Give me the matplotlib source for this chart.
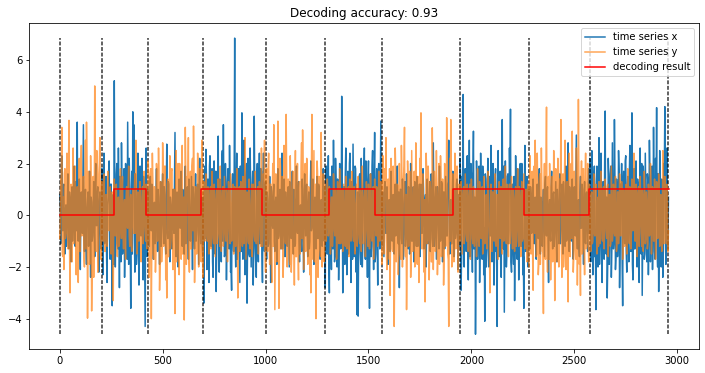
import numpy as np
import matplotlib
matplotlib.use("Agg")
import matplotlib.pyplot as plt

# sample spacing (x axis units between consecutive samples)
step = 2.5

# time series x (blue), samples 0, 2, 4, ... (read/)
series_x = [
    0.8, -1.1, 2.3, -0.6, 1.2, -1.5, 0.4, -0.9, 1.6, -1.3,
    0.7, -1.8, 1.1, -0.5, 1.9, -1.2, 0.3, 3.6, -1.0, 1.4,
    -2.1, 0.9, -0.7, 3.5, -1.4, 1.0, -1.9, 0.6, -1.2, 1.7,
    -2.4, 0.5, -0.8, 1.3, -1.6, 2.0, -0.4, 1.1, -2.2, 0.9,
    -1.3, 1.8, -2.3, 2.4, -0.9, 1.5, -2.6, 0.7, 2.1, -1.7,
    1.2, -3.5, 0.8, 5.2, -2.0, 1.6, -1.1, 2.6, -2.8, 0.9,
    2.8, -1.5, 1.3, -2.4, 2.0, -0.7, 3.6, -1.9, 1.1, -3.6,
    1.7, 4.0, 3.5, -2.2, 0.6, -1.4, 2.4, -2.7, 1.9, -0.8,
    2.2, -2.5, 1.0, -4.3, 2.6, -1.6, 0.9, -1.2, 1.5, -0.6,
    1.1, -1.7, 0.5, -1.0, 1.8, -1.4, 0.7, -1.9, 1.3, -0.4,
    1.6, -1.1, 0.8, -1.5, 2.75, -0.9, 1.2, -1.8, 0.4, -1.3,
    1.0, -0.7, 3.2, -1.6, 0.9, -2.0, 1.4, -0.5, 1.7, -1.2,
    0.6, -1.5, 1.9, -0.8, 1.1, -1.7, 0.5, -1.0, 1.5, -2.1,
    0.8, -1.3, 1.6, -0.6, 1.2, -1.9, 2.2, -1.1, 0.7, -1.6,
    -3.4, 1.9, 2.55, -2.1, 1.4, -2.6, 2.3, -1.2, 1.8, -2.4,
    2.1, -1.5, -2.95, 1.7, 3.06, -2.2, 1.2, -1.8, 2.5, 3.5,
    -1.6, 2.0, -2.5, 1.3, -1.0, 2.7, -2.2, -2.9, 1.6, -1.4,
    6.85, -2.0, 2.4, -1.1, 1.8, -2.6, 1.5, 3.96, -1.7, 2.9,
    -2.3, 1.4, -3.4, 2.2, -1.5, 2.6, -2.0, 1.1, -2.7, 3.83,
    -1.2, -2.4, 2.0, -1.8, 2.4, -1.0, 1.7, -2.6, 2.4, -1.4,
    1.3, -1.7, 0.6, -1.1, 1.5, -2.6, 0.9, -0.5, 1.2, -1.4,
    0.7, -1.9, 1.8, -0.8, 1.0, -1.3, 2.4, -0.6, 1.4, -1.6,
    0.5, -1.2, 1.1, -2.0, 0.8, -0.9, 1.7, -1.5, 0.6, -1.1,
    1.9, -0.7, 1.3, -1.8, 0.4, -1.4, 1.0, -2.2, 1.6, -0.8,
    1.2, -1.6, 0.9, -1.0, 2.1, -0.5, 1.4, -1.9, 0.7, -1.3,
    1.5, -0.9, 1.1, -1.7, 0.6, -1.2, 1.8, -1.0, -2.8, 1.9,
    -1.5, 2.3, -3.0, 1.2, -2.1, 1.6, 2.9, -1.8, 2.2, -0.9,
    1.4, -2.5, 2.0, -1.3, 4.6, -3.0, 1.1, -1.9, 2.6, -2.3,
    1.7, -1.1, 2.4, -2.6, 0.8, 2.75, -1.6, 1.9, -2.2, -3.85,
    -3.9, 1.5, -1.4, 2.2, -2.0, 1.0, 2.6, -1.7, 1.3, -2.4,
    2.1, -3.6, 1.6, -1.2, 2.5, -2.1, 3.2, -1.5, 1.8, -2.7,
    2.0, -1.3, 3.64, -1.2, 0.9, -1.6, 1.3, -0.7, 1.1, -1.9,
    0.6, -1.4, 1.7, -1.0, 0.8, -1.5, 1.2, -0.6, 1.9, -1.1,
    -2.8, 1.0, -0.9, 1.4, -1.7, 0.5, -1.2, 1.6, -0.8, 1.1,
    -1.5, 2.0, -1.0, 0.7, -1.8, 1.3, -0.6, 1.5, -1.2, 0.9,
    -1.6, 1.2, -0.7, 1.8, -1.3, 0.6, -2.0, 1.4, -1.1, 0.8,
    -1.4, 1.6, -0.9, 2.8, -1.2, 0.7, -1.7, 1.1, -0.5, 1.9,
    -1.0, 1.3, -1.8, 0.9, -1.3, 1.5, -0.8, 1.2, 2.9, -1.5,
    0.6, -1.1, 1.7, -1.6, 1.0, -0.7, 1.4, -2.1, 0.8, 2.2,
    -2.9, 1.5, 4.67, -2.0, 1.8, -1.4, 2.3, -2.5, 2.9, -1.2,
    1.6, -2.2, 3.25, -1.0, -4.6, 2.1, -1.7, 1.2, -2.6, 2.4,
    -1.5, 1.9, -2.3, -4.1, 1.4, -1.1, 2.2, -2.0, 1.0, 2.7,
    -1.8, 2.0, -2.7, 1.3, -1.4, -4.3, 2.5, -1.6, 1.7, -2.4,
    3.7, -1.3, -3.75, 2.1, -2.0, 1.5, -1.1, 2.6, 4.1, -2.2,
    1.2, -1.9, -3.3, 2.3, -1.5, 1.8, -2.5, 1.1, -1.2, 2.0,
    -2.3, -3.6, 2.7, -1.4, 1.5, -2.0, 1.0, -1.3, 0.8, -0.6,
    1.4, -1.1, 0.7, -1.7, 1.2, -0.9, 1.8, -1.5, 0.5, -1.2,
    1.0, -1.6, 1.5, -0.8, 1.1, -2.6, 0.6, -1.0, 1.7, -1.3,
    0.9, -0.7, 1.3, -1.8, 0.5, -1.1, 1.6, -0.6, 1.2, -1.5,
    0.8, -1.2, 1.9, -0.9, 2.8, -1.4, 0.7, -1.0, 1.4, -1.7,
    1.1, -0.8, 3.1, -1.3, 0.6, -1.6, 1.5, -0.5, 1.0, -1.9,
    1.3, -1.1, 0.9, -1.4, 1.8, 2.2, -1.8, 2.5, -2.3, 1.4,
    -1.6, -3.65, 1.9, -2.0, 3.0, -1.2, 2.4, -2.6, 1.3, -1.7,
    4.03, -1.5, -3.2, 2.2, -1.9, 1.6, -2.4, 2.8, -1.3, 3.7,
    -2.1, 1.4, -1.6, 2.5, -2.8, 1.2, 2.0, -3.5, 1.7, -1.1,
    2.3, -2.2, 1.5, -1.8, 2.7, -1.4, 3.96, -2.5, 1.8, -1.3,
    2.1, -2.0, 1.2, -2.6, 2.6, -1.5, -3.1, 1.9, -1.7, 2.4,
    -1.2, 1.6, -2.3, 2.9, -1.8, 1.3, -2.1, 3.4, -1.4, 2.2,
    4.16, -2.0, -2.95, 2.5, -1.6, 1.4, -2.4, 2.0, 4.2, -1.9,
    2.6, -1.3,
]

# time series x (blue), samples 1, 3, 5, ... (read/)
series_x_mid = [
    0.3, 0.5, -0.4, 1.1, -0.8, 0.2, -1.2, 0.6, -0.3, 0.9,
    -0.5, 0.4, -1.0, 0.7, -0.2, 1.3, -0.6, 0.1, 0.8, -0.9,
    0.4, -0.3, 1.2, -0.7, 0.5, -1.1, 0.2, 0.9, -0.5, -0.2,
    0.7, -1.0, 0.3, -0.6, 1.1, -0.4, 0.8, -1.3, 0.5, -0.1,
    0.6, -0.8, 1.4, -1.1, 0.9, -1.6, 0.4, 1.7, -0.9, 1.2,
    -1.4, 0.7, -1.9, 1.1, -0.5, 2.0, -1.3, 0.6, 1.5, -1.8,
    0.9, -1.2, 1.8, -0.6, 1.3, -1.7, 0.8, 2.2, -1.0, 0.5,
    -1.5, 1.1, -0.7, 1.6, -1.9, 0.9, -1.2, 1.4, -0.4, 1.8,
    -1.0, 1.5, -1.7, 0.8, -1.3, 1.0, -0.5, 0.9, -0.3, 1.2,
    -0.8, 0.4, -1.1, 0.6, -0.2, 1.0, -0.7, 0.3, -1.2, 0.8,
    -0.4, 1.1, -0.9, 0.5, -0.6, 1.3, -0.2, 0.7, -1.0, 0.4,
    -0.5, 1.2, -0.8, 0.3, -1.3, 0.6, -0.1, 0.9, -0.7, 1.0,
    -0.3, 0.8, -1.1, 0.5, -0.6, 1.4, -0.9, 0.2, -0.4, 1.1,
    -0.7, 0.6, -1.0, 0.9, -0.3, 1.2, -0.5, 0.4, -1.2, 0.7,
    1.2, -0.9, 1.6, -1.4, 0.7, 1.9, -1.1, 0.5, -1.8, 1.3,
    -0.6, 1.7, -1.2, 0.9, -1.9, 1.4, -0.8, 2.1, -1.0, 0.6,
    -1.5, 1.0, -0.7, 1.8, -1.3, 0.4, -2.0, 1.2, -0.9, 1.6,
    -1.1, 0.8, -1.7, 1.3, -0.5, 1.9, -1.4, 0.7, -1.0, 1.5,
    -0.8, 2.0, -1.2, 0.6, -1.6, 1.1, -0.4, 1.7, -1.3, 0.9,
    -1.9, 1.4, -0.6, 1.2, -1.1, 1.8, -1.5, 0.8, -0.7, 1.0,
    -0.6, 0.9, -1.2, 0.4, -0.8, 1.1, -0.3, 0.7, -1.0, 0.5,
    -0.2, 1.2, -0.9, 0.6, -0.4, 1.0, -1.3, 0.3, -0.7, 0.9,
    -1.1, 0.5, -0.3, 1.3, -0.8, 0.2, -0.6, 1.0, -1.2, 0.7,
    -0.4, 0.8, -1.0, 0.3, -0.9, 1.4, -0.5, 0.6, -0.2, 1.1,
    -0.8, 0.4, -1.3, 0.9, -0.6, 1.0, -0.3, 0.5, -1.1, 0.8,
    -0.5, 1.2, -0.7, 0.3, -1.0, 0.6, -0.9, 1.1, 1.3, -1.2,
    0.8, -1.8, 1.5, -0.7, 1.9, -1.3, 0.6, -1.6, 1.2, -2.0,
    0.9, -1.1, 1.7, -0.5, 1.4, -1.9, 0.7, 1.6, -1.2, 0.8,
    -1.5, 2.0, -0.9, 1.3, -1.7, 0.5, -1.0, 1.8, -1.4, 0.9,
    -0.6, 1.6, -1.9, 0.8, -1.1, 1.5, -1.4, 2.1, -0.8, 1.2,
    -1.3, 0.7, -1.6, 1.9, -0.6, 1.4, -1.8, 0.9, -1.0, 1.7,
    -0.9, 1.3, -1.1, 0.8, -0.5, 1.0, -0.3, 0.6, -0.9, 0.4,
    -0.7, 1.1, -0.4, 0.7, -1.2, 0.3, -0.8, 1.2, -0.5, 0.9,
    -0.2, 1.0, -1.1, 0.5, -0.6, 1.3, -0.9, 0.2, -1.3, 0.7,
    -0.4, 0.8, -1.0, 1.1, -0.3, 0.6, -1.2, 0.4, -0.7, 1.2,
    -0.9, 0.5, -0.3, 1.0, -1.1, 0.8, -0.6, 0.3, -1.0, 1.3,
    -0.5, 0.9, -1.2, 0.6, -0.8, 1.1, -0.4, 0.7, -1.3, 0.2,
    -0.7, 1.2, -0.5, 0.9, -1.0, 0.4, -0.8, 1.3, -0.6, 0.5,
    -1.1, 0.7, -0.3, 1.0, -0.9, 1.2, -0.5, 0.6, -1.2, 1.5,
    -1.4, 0.8, -1.9, 1.3, -0.7, 1.7, -1.2, 0.5, -1.6, 2.0,
    -0.9, 1.4, -1.3, 0.7, -1.8, 1.1, -0.6, 1.9, -1.0, 0.8,
    -1.7, 1.2, -0.5, 1.6, -2.0, 0.9, -1.3, 1.5, -0.8, 1.1,
    -1.2, 0.6, -1.6, 1.8, -0.9, 1.3, -1.5, 0.7, -1.9, 1.4,
    -0.7, 1.9, -1.1, 0.8, -1.4, 1.6, -0.6, 1.2, -1.8, 0.9,
    -1.3, 1.5, -0.8, 1.1, -1.7, 0.6, -1.0, 2.0, -1.2, 0.7,
    -1.6, 1.0, -0.9, 1.3, -0.5, 0.8, -0.4, 1.1, -0.7, 0.3,
    -0.9, 0.6, -1.2, 0.4, -0.3, 1.0, -0.8, 0.7, -1.1, 0.5,
    -0.4, 1.2, -0.6, 0.9, -1.0, 0.3, -0.7, 1.1, -0.5, 0.8,
    -1.2, 0.4, -0.8, 1.0, -0.3, 0.9, -1.1, 0.6, -0.5, 1.3,
    -0.6, 0.2, -1.0, 0.8, -0.4, 1.1, -0.9, 0.5, -1.3, 0.7,
    -0.3, 1.0, -0.7, 0.4, -1.2, 0.9, -0.5, 1.2, -0.8, 0.6,
    -1.0, 0.8, -0.4, 1.1, -0.7, 1.4, -1.2, 0.6, -1.7, 1.9,
    -0.8, 1.3, -1.5, 0.9, -1.9, 1.6, -0.7, 1.2, -1.4, 2.0,
    -1.1, 0.7, -1.8, 1.5, -0.6, 1.9, -1.3, 0.8, -1.0, 1.4,
    -1.6, 1.0, -0.9, 1.7, -1.2, 0.5, -1.8, 1.3, -0.7, 2.1,
    -1.4, 0.9, -1.1, 1.6, -0.5, 1.2, -1.9, 0.7, -1.3, 1.8,
    -0.9, 1.4, -1.6, 0.8, -1.2, 2.0, -0.8, 1.1, -1.5, 0.6,
    -1.8, 1.3, -0.7, 1.5, -1.1, 1.9, -0.6, 1.2, -1.7, 0.9,
    -1.3, 1.6, -0.9, 1.1, -2.0, 0.8, -1.4, 1.7, -0.6, 1.3,
    -1.0, 0.7,
]

# time series y (orange), samples 0, 2, 4, ... (read/)
series_y = [
    -0.9, 1.4, 3.4, -1.6, -2.1, 1.8, -0.7, 2.4, -1.3, 3.67,
    -3.0, 1.2, -1.8, 2.6, -0.8, 1.9, -2.3, 1.1, -2.6, 2.2,
    -1.4, 2.7, -0.6, 1.5, -2.0, 2.9, 3.6, -3.98, 1.7, -1.9,
    2.3, -3.7, 1.0, -2.4, 5.0, -1.2, 2.5, -2.2, 1.6, 3.0,
    -1.7, 1.3, -1.0, 1.6, -1.4, 0.8, -1.2, 1.7, -0.6, 1.1,
    -1.5, 0.9, -3.3, 1.4, -0.8, 1.2, -1.6, 0.7, -1.1, 1.8,
    -0.9, 1.5, -1.3, 0.6, -1.7, 1.1, -0.5, 1.9, -1.2, 0.8,
    -1.4, 1.0, -0.7, 1.6, 2.9, -1.5, 0.9, -1.0, 1.3, -1.8,
    0.7, -1.1, 1.7, -0.6, 1.2, -1.3, 2.1, -2.4, 1.6, -4.0,
    2.4, -1.5, 1.1, -2.2, 2.0, -1.0, 2.6, -2.9, 1.3, -1.8,
    2.8, -1.2, 1.9, -2.5, -3.2, 1.4, -1.6, 2.3, -0.9, 1.8,
    -2.1, 1.0, -3.8, 2.5, -1.4, 2.0, -2.3, 1.2, -1.7, 2.7,
    -1.1, -4.05, 3.4, -1.9, 1.5, 3.0, -2.2, 1.7, -1.3, 2.2,
    3.45, -2.6, 1.1, -1.5, 2.4, -2.0, 1.8, -1.2, 2.9, -2.4,
    1.3, -1.0, 1.6, -0.7, 1.1, -1.5, 0.8, -1.3, 1.7, -0.9,
    1.2, -1.6, 0.6, -1.1, 1.4, -0.8, 1.9, -1.4, 0.9, -1.2,
    1.5, -0.7, 1.0, -1.8, 1.3, -0.6, 1.6, -1.0, 0.8, -1.5,
    1.1, -1.2, 1.8, -3.2, 0.7, -1.4, 1.3, -0.9, 1.5, -1.1,
    3.0, -1.7, 0.9, -1.0, 1.4, -1.3, 0.6, -1.6, 1.2, -0.8,
    1.7, -1.1, 1.0, -1.5, 1.3, -0.7, 2.6, -1.2, 1.6, 2.9,
    -2.2, 1.8, -1.4, 2.4, -1.9, 1.2, -2.6, 2.0, 3.5, -3.65,
    1.6, -1.8, 3.64, -3.6, 2.2, -1.3, 1.5, -2.4, 2.7, -1.0,
    3.9, -2.0, 1.4, -1.7, 2.3, -2.2, 1.0, -1.5, -2.7, 2.5,
    -1.6, 2.0, -2.5, 1.3, -1.2, 2.8, 3.3, -2.1, 1.7, -1.4,
    2.2, -1.9, 1.1, -2.3, -3.0, 3.9, -1.7, 2.5, -1.1, -4.0,
    2.1, -2.4, 1.5, -1.3, 3.2, -2.0, 1.6, -1.8, 1.2, -1.0,
    1.4, -0.8, 1.1, -1.5, 0.7, -1.2, 1.6, -0.6, 1.0, -1.7,
    1.3, -0.9, 1.8, -1.1, 0.8, -1.4, 1.2, -0.7, 1.5, -1.3,
    0.9, -1.6, 1.4, -1.0, 1.7, -0.8, 1.1, -1.5, 0.6, -1.2,
    1.5, -0.9, 1.0, -1.4, 1.9, -1.1, 0.7, -1.6, 1.3, -0.7,
    1.2, -1.3, 1.6, -0.9, 1.0, -1.7, 1.4, -0.6, 1.1, -1.2,
    1.7, -1.0, 1.3, -1.9, 2.3, -1.5, 1.8, 3.0, -2.1, 1.4,
    -1.7, -3.1, 2.2, -1.3, 1.9, -4.3, 2.6, -1.8, 1.2, -2.3,
    2.0, -1.5, 2.7, -2.0, 1.4, 3.4, -1.6, -3.65, 2.1, -1.2,
    1.7, -2.4, 2.5, -1.4, 1.1, -2.0, 2.8, -1.7, 1.5, -2.6,
    2.2, 3.96, -1.3, 1.6, -2.2, -3.35, 2.4, -1.1, 1.9, -2.5,
    1.3, -1.8, 3.38, -2.1, 1.7, -1.4, 2.5, -2.3, 1.0, -1.9,
    2.3, -1.6, 1.4, -2.7, 2.0, -1.2, 3.77, -1.5, -4.3, 2.2,
    3.7, -2.0, 1.6, -1.8, 2.4, -1.3, 1.9, -2.2, 1.2, -1.0,
    1.3, -1.5, 0.8, -1.1, 1.6, -0.7, 1.2, -1.4, 0.9, -1.7,
    1.4, -0.9, 1.1, -1.2, 0.6, -1.6, 1.8, -1.0, 1.3, -0.8,
    1.0, -1.5, 1.5, -1.1, 0.7, -1.3, 1.7, -0.6, -3.0, 1.2,
    -1.4, 0.9, -1.0, 1.6, -1.2, 0.8, -1.7, 1.3, -0.9, 1.1,
    -1.5, 1.4, -0.7, 1.9, -1.1, 1.0, -1.6, 1.2, -0.8, 1.5,
    -1.3, 0.7, -1.4, 1.1, -1.0, 1.8, -1.2, 0.9, -1.6, 1.3,
    -0.9, 1.6, -1.3, 1.0, -1.8, 1.2, -2.0, 2.3, -1.5, 1.7,
    -2.9, 1.9, 2.9, -1.6, 2.4, -2.3, 1.3, -1.9, 2.6, -1.4,
    -3.8, 2.0, -1.7, 4.18, -2.2, 1.5, 2.0, -2.5, 1.1, -1.8,
    2.5, -3.3, 1.8, -1.2, 2.2, -2.0, 1.4, 3.7, -2.4, 1.6,
    -1.5, 2.9, -2.1, 1.3, -3.35, 2.4, -1.6, 2.0, 3.25, -2.2,
    1.7, -1.3, 2.6, -2.7, 4.48, -1.9, -3.1, 2.1, -1.4, 1.8,
    -2.3, 2.4, -1.2, 2.0, -1.8, 1.1, -1.4, 0.9, -1.0, 1.6,
    -0.8, 1.2, -1.5, 0.7, 1.3, -1.1, 1.7, -0.9, 1.0, -1.3,
    1.4, -0.6, 1.1, -1.6, 0.8, -1.2, 1.9, -1.0, 1.2, -0.7,
    1.5, -1.4, 0.9, -1.1, 1.6, -0.8, 1.3, -1.7, 1.0, -1.2,
    0.7, -1.5, 1.8, -0.9, 1.1, -1.3, 1.4, -0.6, 2.4, -1.0,
    1.2, -1.6, 0.8, -1.2, 1.5, -0.7, 1.0, -1.4, 1.7, -1.1,
    0.9, -1.3, 1.2, -0.8, 2.0, -1.5, 1.1, -1.0, 1.4, -1.7,
    1.3, -0.9, 1.6, -1.2, 0.8, -1.4, 2.5, -1.1, 1.5, -0.8,
    1.2, -1.4,
]

# time series y (orange), samples 1, 3, 5, ... (read/)
series_y_mid = [
    -0.4, 1.1, -1.5, 0.7, 1.6, -0.9, 1.3, -0.6, 1.9, -1.2,
    0.8, -1.7, 0.5, -1.1, 1.4, -0.3, 1.0, -1.8, 0.6, -1.4,
    1.7, -0.8, 1.2, -1.6, 0.4, -1.3, 1.8, -0.7, 1.1, -1.5,
    0.9, -1.9, 1.5, -0.5, 1.2, -1.4, 0.7, -1.1, 2.0, -0.8,
    1.0, -0.7, 0.9, -1.1, 0.4, -0.6, 1.0, -0.3, 0.8, -1.0,
    0.5, -0.9, 0.3, -0.5, 1.1, -0.8, 0.6, -1.2, 0.4, -0.3,
    0.9, -0.6, 0.2, -1.0, 0.7, -0.4, 1.2, -0.8, 0.5, -1.1,
    0.6, -0.3, 1.0, -0.7, 0.4, -1.2, 0.8, -0.5, 0.3, -0.9,
    1.1, -0.4, 0.7, -1.0, 0.5, -0.8, 1.4, -1.1, 1.8, -0.6,
    1.3, -1.7, 0.8, -1.3, 1.6, -0.5, 1.1, -1.9, 0.7, -1.2,
    1.5, -0.9, 1.9, -0.6, 1.2, -1.6, 0.9, -1.3, 1.7, -0.7,
    1.0, -1.4, 0.6, -1.8, 1.3, -1.0, 2.0, -0.8, 1.4, -1.5,
    0.7, -1.2, 1.6, -0.9, 1.1, -1.7, 0.5, -1.3, 1.9, -0.6,
    1.2, -1.5, 0.8, -1.1, 1.7, -0.7, 1.4, -1.8, 0.6, -1.0,
    0.7, -0.5, 0.9, -1.0, 0.4, -0.8, 1.1, -0.6, 0.3, -1.1,
    0.8, -0.4, 1.0, -0.7, 0.5, -1.2, 0.6, -0.3, 1.1, -0.9,
    0.4, -1.0, 0.7, -0.5, 0.9, -1.1, 0.3, -0.8, 1.2, -0.6,
    0.6, -0.9, 0.4, -1.0, 1.1, -0.5, 0.8, -1.2, 0.5, -0.7,
    1.0, -0.4, 0.7, -1.1, 0.3, -0.9, 1.2, -0.6, 0.8, -1.0,
    0.5, -0.8, 1.1, -0.3, 0.9, -1.2, 0.4, -0.7, 1.0, -1.3,
    1.4, -1.0, 1.8, -0.7, 1.2, -1.5, 0.8, -1.2, 1.6, -0.9,
    1.1, -1.6, 0.6, -1.3, 1.9, -0.8, 1.3, -1.7, 0.7, -1.1,
    1.5, -0.6, 1.2, -1.9, 0.9, -1.4, 1.7, -0.5, 1.0, -1.6,
    1.3, -1.1, 0.7, -1.5, 1.8, -0.9, 1.1, -1.3, 2.0, -0.7,
    1.4, -1.7, 0.8, -1.0, 1.6, -1.2, 0.6, -1.8, 1.2, -0.8,
    1.7, -1.3, 0.9, -1.6, 1.1, -0.7, 1.5, -1.0, 0.6, -0.4,
    0.9, -0.6, 0.3, -1.0, 0.7, -0.5, 1.1, -0.8, 0.4, -0.9,
    0.6, -1.1, 0.5, -0.4, 1.0, -0.7, 0.3, -1.2, 0.8, -0.5,
    1.1, -0.8, 0.6, -0.3, 0.9, -1.0, 0.4, -0.6, 1.2, -0.7,
    0.5, -1.1, 0.8, -0.4, 0.7, -0.9, 1.0, -0.5, 0.3, -1.2,
    0.9, -0.6, 0.4, -1.0, 1.1, -0.3, 0.7, -0.8, 0.5, -1.1,
    0.8, -0.5, 1.0, -1.2, 1.5, -0.9, 1.3, -1.6, 0.7, -1.1,
    1.8, -0.6, 1.2, -1.4, 0.9, -1.8, 1.6, -0.8, 1.1, -1.3,
    0.6, -1.7, 1.4, -0.9, 1.9, -1.2, 0.8, -1.5, 1.3, -0.7,
    1.0, -1.6, 0.5, -1.1, 1.7, -0.8, 1.2, -1.9, 0.9, -1.0,
    1.5, -0.7, 1.1, -1.3, 0.6, -1.5, 1.8, -0.9, 1.3, -1.2,
    0.8, -1.8, 1.6, -0.6, 1.2, -1.1, 0.7, -1.4, 2.0, -0.9,
    1.3, -1.2, 0.9, -1.6, 1.5, -0.8, 1.1, -1.7, 0.6, -1.0,
    1.7, -1.3, 0.8, -1.5, 1.2, -0.9, 1.4, -1.1, 0.6, -0.7,
    0.9, -0.4, 1.1, -0.8, 0.5, -1.0, 0.7, -0.3, 1.2, -0.6,
    0.4, -1.1, 0.8, -0.5, 1.0, -0.7, 0.3, -1.2, 0.6, -0.9,
    1.1, -0.6, 0.5, -0.9, 0.8, -0.4, 1.2, -1.0, 0.4, -0.7,
    0.9, -0.3, 1.0, -1.1, 0.6, -0.8, 0.4, -0.5, 1.1, -0.9,
    0.7, -1.0, 0.3, -0.6, 1.2, -0.7, 0.8, -1.1, 0.5, -0.4,
    1.0, -0.8, 0.6, -1.2, 0.9, -0.5, 1.1, -0.3, 0.7, -1.0,
    0.5, -0.9, 0.8, -0.6, 1.0, -0.4, 1.4, -1.3, 0.9, -1.6,
    1.8, -0.7, 1.2, -1.5, 0.8, -1.9, 1.6, -1.0, 1.1, -1.4,
    0.7, -1.2, 1.9, -0.8, 1.4, -1.7, 0.6, -1.1, 1.5, -0.9,
    1.3, -1.5, 0.9, -1.8, 1.7, -0.6, 1.2, -1.3, 0.8, -2.0,
    1.6, -0.8, 1.1, -1.4, 0.7, -1.1, 1.9, -0.9, 1.3, -1.6,
    0.9, -1.7, 1.4, -0.7, 1.2, -1.2, 0.8, -1.5, 1.8, -1.0,
    1.1, -1.3, 0.7, -0.9, 1.2, -0.5, 0.8, -1.1, 0.4, -0.7,
    1.0, -0.6, 0.5, -1.2, 0.9, -0.4, 0.7, -1.0, 1.1, -0.5,
    0.6, -0.9, 1.2, -0.3, 0.8, -1.1, 0.4, -0.7, 1.0, -0.8,
    0.3, -1.0, 0.9, -0.6, 1.1, -0.5, 0.7, -1.2, 0.5, -0.9,
    1.2, -0.4, 0.6, -1.1, 0.8, -0.7, 1.0, -0.5, 0.4, -1.0,
    0.9, -0.8, 1.1, -0.3, 0.6, -1.2, 0.7, -0.6, 1.0, -0.9,
    0.5, -1.1, 0.8, -0.7, 1.2, -0.4, 0.9, -1.0, 0.6, -0.5,
    1.1, -0.8, 0.4, -1.0, 0.7, -0.6, 1.3, -0.9, 0.5, -1.1,
    0.8, -0.6,
]

# true change points (dashed lines)
change_points = [0, 207, 431, 698, 1000, 1290, 1566, 1945, 2280, 2576, 2955]

# decoding result: state starts, states, and end
decode_starts = [0, 263, 417, 686, 982, 1306, 1532, 1910, 2257, 2572]
decode_states = [0, 1, 0, 1, 0, 1, 0, 1, 0, 1]
decode_end = 2958

title = "Decoding accuracy: 0.93"


def interleave(a, b):
    out = np.empty(len(a) + len(b))
    out[0::2] = a
    out[1::2] = b
    return out


x_full = interleave(series_x, series_x_mid)
y_full = interleave(series_y, series_y_mid)
t = np.arange(len(x_full)) * step

fig = plt.figure(figsize=(705 / 72, 373 / 72), dpi=72)
ax = fig.add_axes([29.3 / 705, 24 / 373, 669.7 / 705, 325.7 / 373])

ax.plot(t, x_full, color="#1f77b4", lw=1.5, label="time series x")
lo = min(x_full.min(), y_full.min())
hi = max(x_full.max(), y_full.max())
ax.vlines(change_points, lo, hi, colors="k", linestyles=(0, (2.6, 1.1)),
          lw=1.5, alpha=0.8)
ax.plot(t, y_full, color="#ff7f0e", lw=1.5, alpha=0.7, label="time series y")

dx = decode_starts + [decode_end]
dy = decode_states + [decode_states[-1]]
ax.step(dx, dy, where="post", color="red", lw=1.5, label="decoding result")

ax.set_title(title, fontsize=12)
ax.tick_params(labelsize=10)
ax.legend(loc="upper right", fontsize=10)

fig.savefig("out.png", dpi=72)
